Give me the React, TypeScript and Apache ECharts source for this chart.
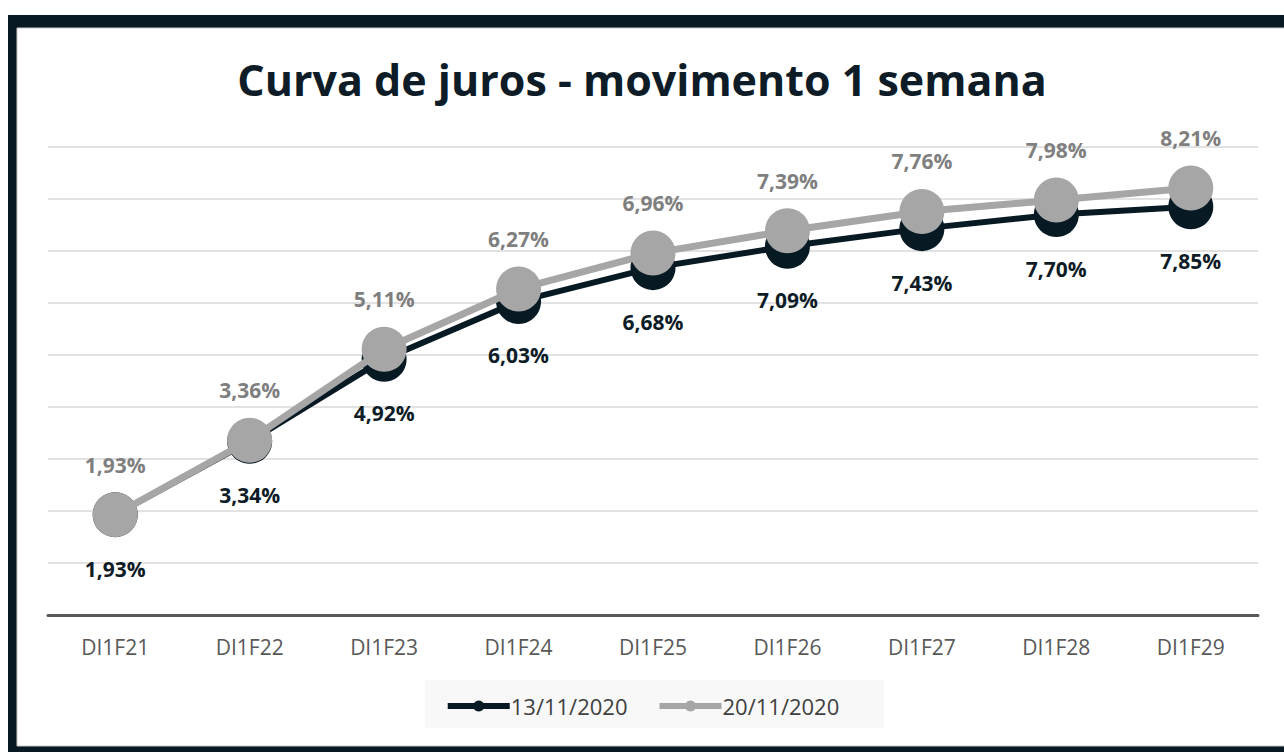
import React, { useEffect, useRef } from "react";
import * as echarts from "echarts";

const categories = ["DI1F21", "DI1F22", "DI1F23", "DI1F24", "DI1F25", "DI1F26", "DI1F27", "DI1F28", "DI1F29"];
const serie1311 = [1.93, 3.34, 4.92, 6.03, 6.68, 7.09, 7.43, 7.7, 7.85];
const serie2011 = [1.93, 3.36, 5.11, 6.27, 6.96, 7.39, 7.76, 7.98, 8.21];
const seriesNames = ["13/11/2020", "20/11/2020"];
const titleText = "Curva de juros - movimento 1 semana";

const FONT = "'Open Sans', 'Noto Sans', sans-serif";
const DARK = "#071923";
const GRAY = "#a6a6a6";

const fmt = (p: any) => String(p.value.toFixed(2)).replace(".", ",") + "%";

export default function App() {
  const ref = useRef<HTMLDivElement>(null);
  useEffect(() => {
    if (!ref.current) return;
    const chart = echarts.init(ref.current, null, { renderer: "svg" });
    chart.setOption({
      animation: false,
      backgroundColor: "#ffffff",
      graphic: [
        { type: "rect", z: -10, silent: true, shape: { x: 8, y: 15, width: 1290, height: 745 }, style: { fill: DARK } },
        { type: "rect", z: -9, silent: true, shape: { x: 17, y: 28, width: 1280, height: 718 }, style: { fill: "#ffffff", stroke: "#c8c8c8", lineWidth: 1 } },
        {
          type: "rect", z: -8, silent: true,
          shape: { x: 425, y: 680, width: 459, height: 48 },
          style: { fill: "#f8f8f8" },
        },
      ],
      title: {
        text: titleText,
        left: "center",
        top: 53,
        textStyle: { fontFamily: FONT, fontWeight: "bold", fontSize: 43, color: "#0d1c26" },
      },
      legend: {
        data: seriesNames,
        left: "center",
        top: 690,
        itemWidth: 62,
        itemHeight: 14,
        itemGap: 29,
        lineStyle: { width: 6 },
        textStyle: { fontFamily: FONT, fontSize: 22, color: "#404040", padding: [0, 0, 0, -4] },
      },
      grid: { left: 48, top: 147, width: 1210, height: 468 },
      xAxis: {
        type: "category",
        data: categories,
        axisLine: { lineStyle: { color: "#595959", width: 3 } },
        axisTick: { show: false },
        axisLabel: { fontFamily: FONT, fontSize: 21, color: "#595959", margin: 21 },
      },
      yAxis: {
        type: "value",
        min: 0,
        max: 9,
        interval: 1,
        axisLabel: { show: false },
        axisLine: { show: false },
        axisTick: { show: false },
        splitLine: { lineStyle: { color: "#d9d9d9", width: 1.5 } },
      },
      series: [
        {
          name: seriesNames[0],
          type: "line",
          data: serie1311,
          symbol: "circle",
          symbolSize: 45,
          z: 2,
          lineStyle: { color: DARK, width: 6 },
          itemStyle: { color: DARK },
          label: {
            show: true,
            position: "bottom",
            distance: 21,
            formatter: fmt,
            fontFamily: FONT,
            fontSize: 21,
            fontWeight: "bold",
            color: "#0d1c26",
          },
        },
        {
          name: seriesNames[1],
          type: "line",
          data: serie2011,
          symbol: "circle",
          symbolSize: 45,
          z: 3,
          lineStyle: { color: GRAY, width: 7 },
          itemStyle: { color: GRAY },
          label: {
            show: true,
            position: "top",
            distance: 17,
            formatter: fmt,
            fontFamily: FONT,
            fontSize: 21,
            fontWeight: "bold",
            color: "#7f7f7f",
          },
        },
      ],
    });
    return () => chart.dispose();
  }, []);
  return <div ref={ref} style={{ position: "absolute", left: 0, top: 0, width: 1284, height: 752 }} />;
}
